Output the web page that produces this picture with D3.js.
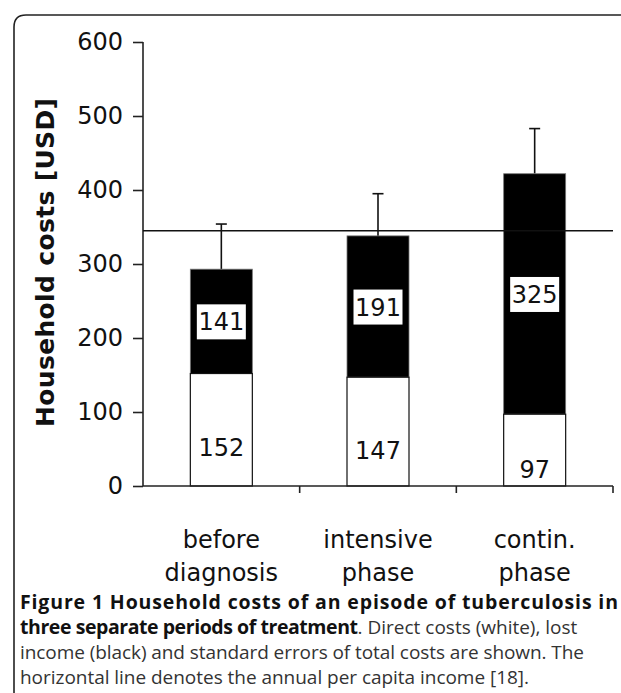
<!DOCTYPE html>
<html>
<head>
<meta charset="utf-8">
<script src="https://cdn.jsdelivr.net/npm/d3@7"></script>
<style>
  body { margin: 0; background: #fff; }
  svg { display: block; }
</style>
</head>
<body>
<div id="chart"></div>
<script>
// chart values
const categories = [["before", "diagnosis"], ["intensive", "phase"], ["contin.", "phase"]];
const directCosts = [152, 147, 97];
const lostIncome = [141, 191, 325];
const errorTops = [354, 395, 483];
const perCapitaIncome = 345;
const yTicks = [0, 100, 200, 300, 400, 500, 600];

const W = 621, H = 693;
const margin = {top: 42, left: 143, right: 8, bottom: 207};

const svg = d3.select("#chart").append("svg")
    .attr("width", W)
    .attr("height", H);

// frame with rounded top-left corner, runs off the right and bottom edges
svg.append("path")
    .attr("d", "M14,703 L14,27 Q14,15 26,15 L640,15")
    .attr("fill", "none")
    .attr("stroke", "#222")
    .attr("stroke-width", 1.6);

const band = (W - margin.right - margin.left) / categories.length;

const y = d3.scaleLinear()
    .domain([0, 600])
    .range([H - margin.bottom, margin.top]);

const g = svg.append("g");

// y axis
const yAxis = d3.axisLeft(y).tickValues(yTicks).tickSize(10).tickPadding(10);
g.append("g")
    .attr("transform", `translate(${margin.left},0)`)
    .call(yAxis)
    .call(s => s.select(".domain").attr("d", `M0,${y(0)}V${y(600)}`))
    .call(s => s.selectAll("line").attr("stroke", "#222").attr("stroke-width", 1.6))
    .call(s => s.selectAll("path").attr("stroke", "#222").attr("stroke-width", 1.6))
    .call(s => s.selectAll("text")
        .attr("font-family", "DejaVu Sans, Verdana, sans-serif")
        .attr("font-size", 24)
        .attr("fill", "#111"));

// y axis title
svg.append("text")
    .attr("transform", "translate(54,262.5) rotate(-90)")
    .attr("text-anchor", "middle")
    .attr("font-family", "DejaVu Sans, Verdana, sans-serif")
    .attr("font-weight", "bold")
    .attr("font-size", 25)
    .attr("textLength", 329)
    .attr("lengthAdjust", "spacing")
    .attr("fill", "#111")
    .text("Household costs [USD]");

// stacked bars
const bw = 62;
const cx = i => margin.left + band * (i + 0.5);

const bars = g.selectAll(".bar")
    .data(categories.map((c, i) => ({i, d: directCosts[i], l: lostIncome[i], e: errorTops[i]})))
    .enter().append("g").attr("class", "bar");

// error bars (drawn first, the bar covers the lower part)
bars.append("line")
    .attr("x1", d => cx(d.i)).attr("x2", d => cx(d.i))
    .attr("y1", d => y(d.d + d.l)).attr("y2", d => y(d.e))
    .attr("stroke", "#111").attr("stroke-width", 1.6);
bars.append("line")
    .attr("x1", d => cx(d.i) - 5.5).attr("x2", d => cx(d.i) + 5.5)
    .attr("y1", d => y(d.e)).attr("y2", d => y(d.e))
    .attr("stroke", "#111").attr("stroke-width", 1.6);

bars.append("rect")
    .attr("x", d => cx(d.i) - bw / 2)
    .attr("width", bw)
    .attr("y", d => y(d.d + d.l))
    .attr("height", d => y(d.d) - y(d.d + d.l))
    .attr("fill", "#000")
    .attr("stroke", "#777")
    .attr("stroke-width", 0.8);

bars.append("rect")
    .attr("x", d => cx(d.i) - bw / 2)
    .attr("width", bw)
    .attr("y", d => y(d.d))
    .attr("height", d => y(0) - y(d.d))
    .attr("fill", "#fff")
    .attr("stroke", "#111")
    .attr("stroke-width", 1.2);

// labels in the black segment, on white boxes
bars.append("rect")
    .attr("x", d => cx(d.i) - 24.5)
    .attr("y", d => y(d.d + d.l / 2) - 17)
    .attr("width", 49)
    .attr("height", 35)
    .attr("fill", "#fff");
bars.append("text")
    .attr("x", d => cx(d.i))
    .attr("y", d => y(d.d + d.l / 2) + 9)
    .attr("text-anchor", "middle")
    .attr("font-family", "DejaVu Sans, Verdana, sans-serif")
    .attr("font-size", 24)
    .attr("fill", "#111")
    .text(d => d.l);

// labels in the white segment
bars.append("text")
    .attr("x", d => cx(d.i))
    .attr("y", d => Math.min(y(d.d) + 73, y(0) - 17) + 9)
    .attr("text-anchor", "middle")
    .attr("font-family", "DejaVu Sans, Verdana, sans-serif")
    .attr("font-size", 24)
    .attr("fill", "#111")
    .text(d => d.d);

// per capita income line
g.append("line")
    .attr("x1", margin.left).attr("x2", W - margin.right)
    .attr("y1", y(perCapitaIncome)).attr("y2", y(perCapitaIncome))
    .attr("stroke", "#111").attr("stroke-width", 1.6);

// x axis
const xAxis = g.append("g").attr("transform", `translate(0,${y(0)})`);
xAxis.append("line")
    .attr("x1", margin.left).attr("x2", W - margin.right)
    .attr("stroke", "#222").attr("stroke-width", 1.6);
xAxis.selectAll(".sep")
    .data(d3.range(1, categories.length + 1))
    .enter().append("line")
    .attr("x1", i => margin.left + band * i).attr("x2", i => margin.left + band * i)
    .attr("y1", 0).attr("y2", 7)
    .attr("stroke", "#222").attr("stroke-width", 1.6);

const catLabels = xAxis.selectAll(".cat")
    .data(categories)
    .enter().append("text")
    .attr("text-anchor", "middle")
    .attr("font-family", "DejaVu Sans, Verdana, sans-serif")
    .attr("font-size", 24)
    .attr("fill", "#111");
catLabels.append("tspan")
    .attr("x", (c, i) => cx(i)).attr("y", 62)
    .text(c => c[0]);
catLabels.append("tspan")
    .attr("x", (c, i) => cx(i)).attr("y", 95)
    .text(c => c[1]);

// caption, runs stretched to the width they have in the figure
const capLines = [
  [{t: "Figure 1 Household costs of an episode of tuberculosis in", b: true, w: 598}],
  [{t: "three separate periods of treatment", b: true, w: 338}, {t: ". Direct costs (white), lost", b: false, w: null}],
  [{t: "income (black) and standard errors of total costs are shown. The", b: false, w: 564}],
  [{t: "horizontal line denotes the annual per capita income [18].", b: false, w: 509}]
];
const cap = svg.append("g")
    .attr("font-family", "Open Sans, sans-serif")
    .attr("fill", "#111");
capLines.forEach((line, k) => {
  const t = cap.append("text").attr("x", 20).attr("y", 609 + k * 25);
  line.forEach(p => {
    const s = t.append("tspan")
        .attr("font-weight", p.b ? "bold" : "normal")
        .attr("font-size", p.b ? 19.5 : 19)
        .attr("fill", p.b ? "#111" : "#333")
        .text(p.t);
    if (p.w) s.attr("textLength", p.w).attr("lengthAdjust", "spacing");
  });
});
</script>
</body>
</html>
